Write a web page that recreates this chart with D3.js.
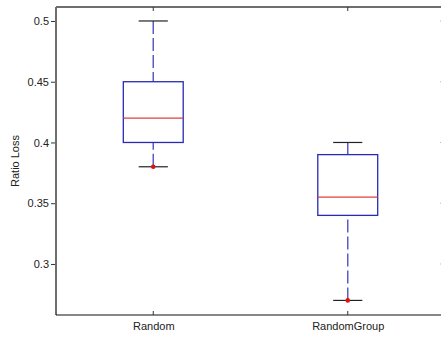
<!DOCTYPE html>
<html><head><meta charset="utf-8">
<script src="https://cdn.jsdelivr.net/npm/d3@7"></script>
<style>body{margin:0;background:#fff}svg{display:block}text{font-family:Arial,"Liberation Sans",sans-serif}</style>
</head><body>
<script>
const categories = ["Random", "RandomGroup"];
const upperWhisker = [0.50, 0.40];
const q3 = [0.45, 0.39];
const median = [0.42, 0.355];
const q1 = [0.40, 0.34];
const lowerWhisker = [0.38, 0.27];
const outliers = [[0.38], [0.27]];
const yTicks = [0.3, 0.35, 0.4, 0.45, 0.5];
const yLabel = "Ratio Loss";

const W = 441, H = 337;
const L = 56, R = 445, T = 7, B = 315;
const svg = d3.select("body").append("svg").attr("width", W).attr("height", H);
const x = d3.scalePoint().domain(categories).range([L, R]).padding(0.5);
const y = d3.scaleLinear().domain([0.258, 0.5115]).range([B, T]);
const step = x.step();
const boxHalf = step * 0.154, capHalf = step * 0.075;

// frame
svg.append("line").attr("x1", L).attr("x2", R).attr("y1", T).attr("y2", T).attr("stroke", "#6e6e6e").attr("stroke-width", 2);
svg.append("line").attr("x1", L).attr("x2", L).attr("y1", T).attr("y2", B).attr("stroke", "#6e6e6e").attr("stroke-width", 2);
svg.append("line").attr("x1", R).attr("x2", R).attr("y1", T).attr("y2", B).attr("stroke", "#6e6e6e").attr("stroke-width", 2);
svg.append("line").attr("x1", L).attr("x2", R).attr("y1", B).attr("y2", B).attr("stroke", "#111").attr("stroke-width", 1.2);

// y axis ticks + labels
const yAxis = d3.axisLeft(y).tickValues(yTicks).tickFormat(d => String(+d.toFixed(2))).tickSize(4).tickPadding(2);
const ga = svg.append("g").attr("transform", `translate(${L - 1},0)`).call(yAxis);
ga.select(".domain").remove();
ga.selectAll(".tick line").attr("stroke", "#333");
ga.selectAll(".tick text").attr("font-size", 11).attr("fill", "#222").attr("font-family", "Arial, 'Liberation Sans', sans-serif");
// right inner ticks
svg.append("g").selectAll("line").data(yTicks).join("line")
  .attr("x1", R - 5).attr("x2", R).attr("y1", d => y(d)).attr("y2", d => y(d)).attr("stroke", "#bbb");

// x axis
const xAxis = d3.axisBottom(x).tickSize(0).tickPadding(7);
const gx = svg.append("g").attr("transform", `translate(0,${B})`).call(xAxis);
gx.select(".domain").remove();
gx.selectAll(".tick text").attr("font-size", 11).attr("fill", "#222").attr("font-family", "Arial, 'Liberation Sans', sans-serif");
// inner x ticks top and bottom
svg.append("g").selectAll("line").data(categories).join("line")
  .attr("x1", d => x(d)).attr("x2", d => x(d)).attr("y1", B - 4).attr("y2", B).attr("stroke", "#333");
svg.append("g").selectAll("line").data(categories).join("line")
  .attr("x1", d => x(d)).attr("x2", d => x(d)).attr("y1", T).attr("y2", T + 4).attr("stroke", "#333");

// y label
svg.append("text").attr("transform", `translate(19,${(T + B) / 2}) rotate(-90)`)
  .attr("text-anchor", "middle").attr("font-size", 11).attr("fill", "#222").text(yLabel);

const g = svg.append("g");
categories.forEach((c, i) => {
  const cx = x(c);
  // whiskers, drawn from cap toward box
  g.append("line").attr("x1", cx).attr("x2", cx).attr("y1", y(upperWhisker[i])).attr("y2", y(q3[i]))
    .attr("stroke", "#5c5cc8").attr("stroke-width", 1.5).attr("stroke-dasharray", "13,4");
  g.append("line").attr("x1", cx).attr("x2", cx).attr("y1", y(lowerWhisker[i])).attr("y2", y(q1[i]))
    .attr("stroke", "#5c5cc8").attr("stroke-width", 1.5).attr("stroke-dasharray", "13,4");
  // caps
  [upperWhisker[i], lowerWhisker[i]].forEach(v => {
    g.append("line").attr("x1", cx - capHalf).attr("x2", cx + capHalf).attr("y1", y(v)).attr("y2", y(v))
      .attr("stroke", "#222").attr("stroke-width", 1.2);
  });
  // box
  g.append("rect").attr("x", cx - boxHalf).attr("width", 2 * boxHalf)
    .attr("y", y(q3[i])).attr("height", y(q1[i]) - y(q3[i]))
    .attr("fill", "none").attr("stroke", "#2a2ab4").attr("stroke-width", 1.3);
  // median
  g.append("line").attr("x1", cx - boxHalf).attr("x2", cx + boxHalf).attr("y1", y(median[i])).attr("y2", y(median[i]))
    .attr("stroke", "#e03c3c").attr("stroke-width", 1.1);
  // outliers
  outliers[i].forEach(v => {
    g.append("circle").attr("cx", cx).attr("cy", y(v)).attr("r", 2.3).attr("fill", "#e01010");
  });
});
</script>
</body></html>
